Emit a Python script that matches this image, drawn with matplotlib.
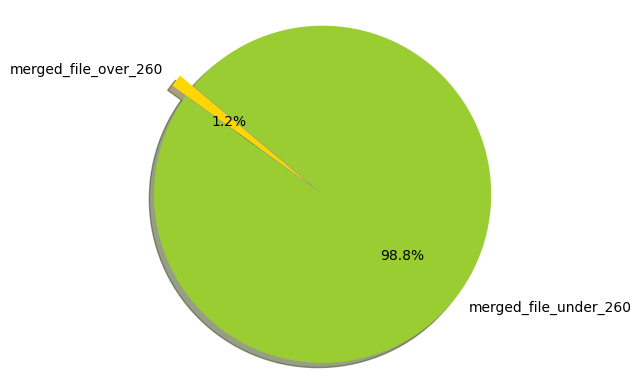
import matplotlib
matplotlib.use("Agg")
import matplotlib.pyplot as plt

labels = ["merged_file_over_260", "merged_file_under_260"]
sizes = [1.2, 98.8]
colors = ["gold", "yellowgreen"]
explode = (0.1, 0)

fig = plt.figure(figsize=(6.41, 3.89), dpi=100)
ax = fig.add_axes([0, 0, 1, 1])
ax.pie(sizes, explode=explode, labels=labels, colors=colors,
       autopct='%1.1f%%', shadow=True, startangle=140)
W, H = 641, 389
cx, cy, r = 322.6, 389 - 194.3, 168.6
ax.set_aspect('auto')
ax.set_xlim(-cx / r, (W - cx) / r)
ax.set_ylim(-cy / r, (H - cy) / r)
ax.axis('off')
fig.savefig("out.png", dpi=100)
